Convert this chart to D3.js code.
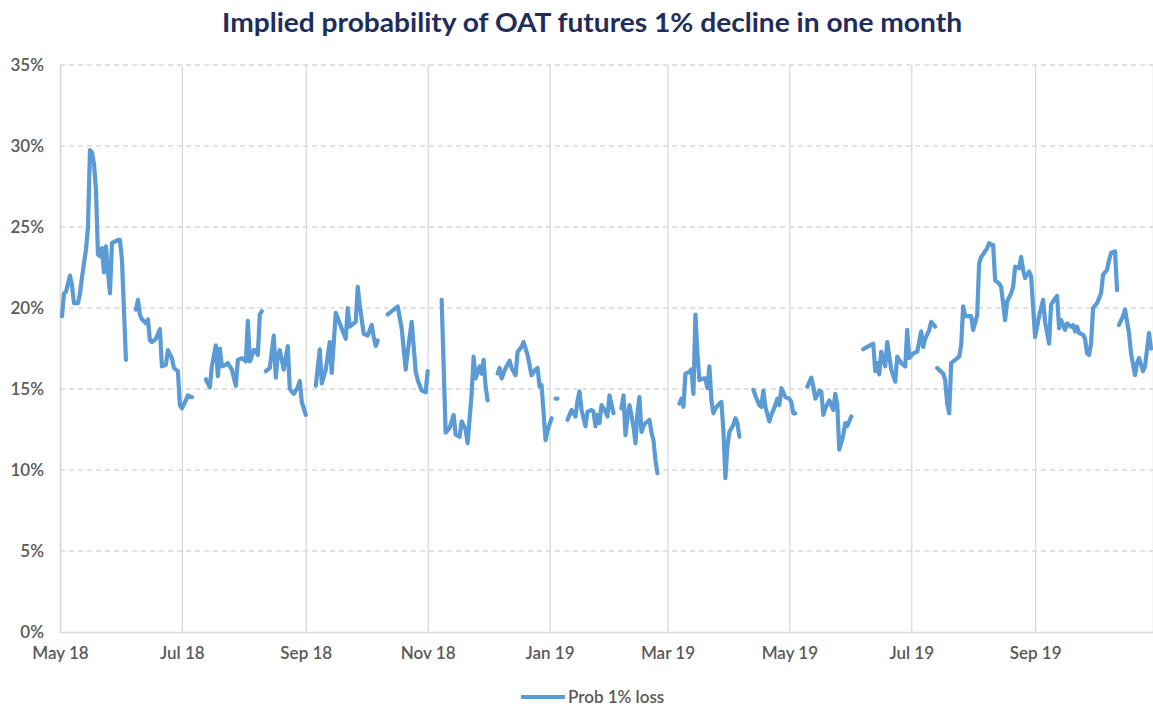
<!DOCTYPE html>
<html>
<head>
<meta charset="utf-8">
<script src="https://cdn.jsdelivr.net/npm/d3@7"></script>
<style>
  body { margin: 0; background: #fff; }
  svg { display: block; font-family: Lato, "Open Sans", sans-serif; }
</style>
</head>
<body>
<div id="chart"></div>
<script>
// implied probability (%) of a 1% decline, null = gap in the series
const dates = [
  "2018-05-02","2018-05-03","2018-05-04","2018-05-06","2018-05-07","2018-05-08","2018-05-10","2018-05-11","2018-05-12",
  "2018-05-14","2018-05-15","2018-05-16","2018-05-17","2018-05-18","2018-05-19","2018-05-20","2018-05-21","2018-05-22",
  "2018-05-23","2018-05-24","2018-05-25","2018-05-26","2018-05-27","2018-05-30","2018-05-31","2018-06-01","2018-06-03",
  "2018-06-05",
  "2018-06-08","2018-06-09","2018-06-10","2018-06-11","2018-06-13","2018-06-14","2018-06-15","2018-06-16","2018-06-18",
  "2018-06-20","2018-06-21","2018-06-23","2018-06-24","2018-06-26","2018-06-27","2018-06-29","2018-06-30","2018-07-01",
  "2018-07-03","2018-07-04","2018-07-06",
  "2018-07-10",
  "2018-07-13","2018-07-15","2018-07-16","2018-07-18","2018-07-19","2018-07-20","2018-07-21","2018-07-23","2018-07-24",
  "2018-07-26","2018-07-28","2018-07-29","2018-07-31","2018-08-02","2018-08-03","2018-08-04","2018-08-06","2018-08-07",
  "2018-08-08","2018-08-09","2018-08-10",
  "2018-08-11",
  "2018-08-12","2018-08-14","2018-08-16","2018-08-17","2018-08-18","2018-08-19","2018-08-21","2018-08-22","2018-08-23",
  "2018-08-24","2018-08-26","2018-08-28","2018-08-29","2018-08-30","2018-09-01",
  "2018-09-03",
  "2018-09-06","2018-09-08","2018-09-09","2018-09-11","2018-09-13","2018-09-14","2018-09-16","2018-09-18","2018-09-21",
  "2018-09-22","2018-09-23","2018-09-25","2018-09-26","2018-09-27","2018-09-28","2018-09-30","2018-10-02","2018-10-04",
  "2018-10-05","2018-10-06","2018-10-07",
  "2018-10-10",
  "2018-10-12","2018-10-15","2018-10-17","2018-10-19","2018-10-21","2018-10-22","2018-10-24","2018-10-26","2018-10-27",
  "2018-10-29","2018-10-31","2018-11-01",
  "2018-11-05",
  "2018-11-08","2018-11-10","2018-11-12","2018-11-14","2018-11-15","2018-11-17","2018-11-18","2018-11-20","2018-11-21",
  "2018-11-23","2018-11-24","2018-11-25","2018-11-27","2018-11-28","2018-11-29","2018-11-30","2018-12-01",
  "2018-12-04",
  "2018-12-06","2018-12-07","2018-12-08","2018-12-10","2018-12-12","2018-12-13","2018-12-15","2018-12-16","2018-12-18",
  "2018-12-19","2018-12-21","2018-12-23","2018-12-25","2018-12-26","2018-12-27","2018-12-28","2018-12-30","2018-12-31",
  "2019-01-02",
  "2019-01-03",
  "2019-01-04","2019-01-05",
  "2019-01-08",
  "2019-01-10","2019-01-11","2019-01-12","2019-01-14","2019-01-15","2019-01-16","2019-01-17","2019-01-19","2019-01-20",
  "2019-01-22","2019-01-23","2019-01-24","2019-01-25","2019-01-26","2019-01-27","2019-01-29","2019-01-30","2019-01-31",
  "2019-02-02",
  "2019-02-04",
  "2019-02-06","2019-02-07","2019-02-08","2019-02-09","2019-02-10","2019-02-12","2019-02-13","2019-02-14","2019-02-15",
  "2019-02-16","2019-02-17","2019-02-18","2019-02-20","2019-02-21","2019-02-22","2019-02-23","2019-02-24",
  "2019-03-03",
  "2019-03-07","2019-03-08","2019-03-09","2019-03-10","2019-03-12","2019-03-13","2019-03-14","2019-03-15","2019-03-16",
  "2019-03-17","2019-03-19","2019-03-20","2019-03-21","2019-03-22","2019-03-23","2019-03-24","2019-03-25","2019-03-27",
  "2019-03-28","2019-03-29","2019-03-30","2019-03-31","2019-04-01","2019-04-03","2019-04-04","2019-04-05","2019-04-06",
  "2019-04-10",
  "2019-04-13","2019-04-14","2019-04-16","2019-04-17","2019-04-18","2019-04-19","2019-04-21","2019-04-22","2019-04-24",
  "2019-04-25","2019-04-26","2019-04-27","2019-04-29","2019-05-01","2019-05-02","2019-05-03","2019-05-04",
  "2019-05-07",
  "2019-05-10","2019-05-12","2019-05-13","2019-05-14","2019-05-16","2019-05-17","2019-05-18","2019-05-19","2019-05-21",
  "2019-05-23","2019-05-24","2019-05-25","2019-05-26","2019-05-28","2019-05-29","2019-05-30","2019-06-01",
  "2019-06-04",
  "2019-06-07","2019-06-09","2019-06-12","2019-06-13","2019-06-14","2019-06-15","2019-06-16","2019-06-18","2019-06-19",
  "2019-06-21","2019-06-23","2019-06-24","2019-06-26","2019-06-28","2019-06-29","2019-06-30","2019-07-02","2019-07-04",
  "2019-07-06","2019-07-07","2019-07-08","2019-07-10","2019-07-11","2019-07-13",
  "2019-07-13",
  "2019-07-14","2019-07-17","2019-07-18","2019-07-19","2019-07-20","2019-07-21","2019-07-23","2019-07-25","2019-07-26",
  "2019-07-27","2019-07-28","2019-07-31","2019-08-01","2019-08-03","2019-08-04","2019-08-05","2019-08-07","2019-08-08",
  "2019-08-09","2019-08-10","2019-08-11","2019-08-12","2019-08-14","2019-08-15","2019-08-17","2019-08-18","2019-08-20",
  "2019-08-21","2019-08-22","2019-08-24","2019-08-25","2019-08-26","2019-08-27","2019-08-28","2019-08-29","2019-08-30",
  "2019-09-01","2019-09-02","2019-09-03","2019-09-05","2019-09-06","2019-09-08","2019-09-09","2019-09-11","2019-09-12",
  "2019-09-13","2019-09-14","2019-09-16","2019-09-17","2019-09-19","2019-09-20","2019-09-21","2019-09-22","2019-09-23",
  "2019-09-25","2019-09-26","2019-09-27","2019-09-28","2019-09-29","2019-09-30","2019-10-02","2019-10-03","2019-10-04",
  "2019-10-05","2019-10-07","2019-10-08","2019-10-09","2019-10-11","2019-10-12",
  "2019-10-12",
  "2019-10-13","2019-10-15","2019-10-16","2019-10-18","2019-10-19","2019-10-21","2019-10-22","2019-10-23","2019-10-25",
  "2019-10-26","2019-10-28","2019-10-29"
];

const prob = [
  19.5,20.9,21.0,22.0,21.4,20.3,20.3,20.9,21.9,
  23.6,25.0,29.75,29.6,28.9,27.3,23.3,23.2,23.7,
  22.2,23.8,22.3,20.9,24.0,24.2,24.2,23.0,16.8,
  null,
  19.9,20.5,19.6,19.3,19.05,19.3,18.0,17.9,18.1,
  18.7,16.4,16.5,17.4,16.9,16.3,16.1,14.0,13.8,
  14.3,14.6,14.5,
  null,
  15.6,15.1,16.4,17.7,15.8,17.5,16.4,16.5,16.6,
  16.2,15.2,16.8,16.9,16.7,19.2,16.7,17.4,17.4,
  17.1,19.6,19.8,
  null,
  16.1,16.3,18.3,15.7,17.1,17.4,16.2,16.9,17.65,
  15.0,14.7,15.1,15.5,14.2,13.4,
  null,
  15.2,17.45,15.35,16.2,17.9,16.0,19.7,19.05,18.1,
  20.0,18.85,19.05,19.15,21.3,20.2,18.4,18.3,18.95,
  18.2,17.65,18.0,
  null,
  19.6,19.9,20.1,18.75,16.2,17.3,19.15,16.1,15.55,
  14.9,14.8,16.1,
  null,
  20.5,12.3,12.6,13.4,12.2,12.05,13.0,12.5,11.65,
  14.7,17.0,15.65,16.4,15.95,16.8,15.15,14.3,
  null,
  15.95,16.3,15.65,16.3,16.75,16.3,15.85,17.3,17.6,
  17.9,17.1,15.85,16.2,16.3,15.15,15.25,11.85,12.45,
  13.2,
  null,
  14.4,14.4,
  null,
  13.1,13.4,13.7,13.3,14.3,14.85,13.7,12.7,13.6,
  13.7,13.6,12.7,13.4,12.9,14.0,13.6,13.3,14.6,
  13.5,
  null,
  13.8,14.6,12.15,13.3,14.0,12.7,11.65,13.5,14.5,
  12.35,12.7,12.9,13.1,12.3,11.85,10.6,9.8,
  null,
  14.1,14.4,13.9,15.95,16.05,16.2,14.7,19.6,17.2,
  15.55,15.65,15.65,15.05,16.4,14.3,13.5,13.8,14.1,
  14.2,12.45,9.5,11.45,12.35,12.8,13.2,12.9,12.05,
  null,
  14.95,14.6,14.0,13.9,14.9,13.9,13.0,13.4,14.0,
  14.4,14.0,15.05,14.5,14.4,14.2,13.5,13.5,
  null,
  15.15,15.7,15.15,14.4,14.9,14.85,13.4,13.8,14.3,
  13.7,14.7,14.0,11.25,12.15,12.9,12.7,13.3,
  null,
  17.45,17.6,17.8,16.1,16.6,15.9,17.3,16.4,17.9,
  16.2,15.45,17.0,16.6,16.4,18.65,16.9,17.2,17.3,
  18.55,17.6,18.1,18.65,19.15,18.85,
  null,
  16.3,15.95,15.55,14.1,13.5,16.6,16.8,17.0,17.7,
  20.1,19.5,19.5,18.65,19.55,22.75,23.15,23.5,23.7,
  24.0,23.9,23.9,21.7,21.5,21.3,19.25,20.4,20.9,
  21.3,22.55,22.45,23.15,22.35,21.85,22.05,22.25,21.95,
  18.2,18.85,19.5,20.5,19.15,17.8,20.2,20.6,20.75,
  18.75,19.25,18.65,19.05,18.85,18.95,18.55,18.85,18.45,
  18.35,18.1,17.2,17.1,17.8,20.0,20.3,20.6,20.9,
  22.05,22.35,22.95,23.4,23.5,21.1,
  null,
  18.95,19.5,19.9,18.45,17.2,15.85,16.6,16.9,16.1,
  16.4,18.45,17.5
];

const yTicks = [0, 5, 10, 15, 20, 25, 30, 35];
const xStart = "2018-05-01";
const xEnd = "2019-10-30";
const title = "Implied probability of OAT futures 1% decline in one month";
const seriesName = "Prob 1% loss";

const width = 1153;
const height = 706;
const plotLeft = 60;
const plotRight = 1153;
const plotTop = 65;
const plotBottom = 632;
const lineColor = "#5B9BD5";
const gridColor = "#D9D9D9";
const labelColor = "#595959";
const labelFont = "Lato, sans-serif";

const parse = d3.utcParse("%Y-%m-%d");
const data = dates.map((d, i) => ({date: parse(d), v: prob[i]}));

const svg = d3.select("#chart").append("svg")
  .attr("width", width)
  .attr("height", height);

const x = d3.scaleUtc()
  .domain([parse(xStart), parse(xEnd)])
  .range([plotLeft, plotRight]);

const y = d3.scaleLinear()
  .domain([0, 35])
  .range([plotBottom, plotTop]);

// horizontal dashed gridlines
svg.append("g")
  .selectAll("line")
  .data(yTicks.filter(t => t > 0))
  .join("line")
  .attr("x1", plotLeft)
  .attr("x2", plotRight)
  .attr("y1", d => y(d))
  .attr("y2", d => y(d))
  .attr("stroke", gridColor)
  .attr("stroke-width", 1.3)
  .attr("stroke-dasharray", "5,4");

// vertical gridlines + x axis
const xAxis = d3.axisBottom(x)
  .ticks(d3.utcMonth.every(2))
  .tickFormat(d3.utcFormat("%b %y"))
  .tickSize(-(plotBottom - plotTop))
  .tickPadding(15);

const gx = svg.append("g")
  .attr("transform", `translate(0,${plotBottom})`)
  .call(xAxis);
gx.select(".domain").attr("stroke", gridColor).attr("stroke-width", 1.5);
gx.selectAll(".tick line").attr("stroke", gridColor).attr("stroke-width", 1.3);
gx.selectAll(".tick text")
  .attr("fill", labelColor)
  .attr("font-size", 17)
  .attr("font-weight", 600)
  .attr("font-family", labelFont);

// y axis labels
const yAxis = d3.axisLeft(y)
  .tickValues(yTicks)
  .tickFormat(d => d + "%")
  .tickSize(0)
  .tickPadding(16);

const gy = svg.append("g")
  .attr("transform", `translate(${plotLeft},0)`)
  .call(yAxis);
gy.select(".domain").remove();
gy.selectAll(".tick text")
  .attr("fill", labelColor)
  .attr("font-size", 17)
  .attr("font-weight", 600)
  .attr("font-family", labelFont);

// the series
const line = d3.line()
  .defined(d => d.v != null)
  .x(d => x(d.date))
  .y(d => y(d.v));

svg.append("path")
  .datum(data)
  .attr("fill", "none")
  .attr("stroke", lineColor)
  .attr("stroke-width", 4.2)
  .attr("stroke-linejoin", "round")
  .attr("stroke-linecap", "round")
  .attr("d", line);

// title
svg.append("text")
  .text(title)
  .attr("x", 592)
  .attr("y", 32)
  .attr("text-anchor", "middle")
  .attr("fill", "#1F2D5A")
  .attr("font-size", 26)
  .attr("font-weight", 700)
  .attr("font-family", labelFont)
  .attr("textLength", 740)
  .attr("lengthAdjust", "spacingAndGlyphs");

// legend
svg.append("line")
  .attr("x1", 521)
  .attr("x2", 565)
  .attr("y1", 697)
  .attr("y2", 697)
  .attr("stroke", lineColor)
  .attr("stroke-width", 4.2);

svg.append("text")
  .text(seriesName)
  .attr("x", 568)
  .attr("y", 703)
  .attr("fill", labelColor)
  .attr("font-size", 17)
  .attr("font-weight", 600)
  .attr("font-family", labelFont);
</script>
</body>
</html>
